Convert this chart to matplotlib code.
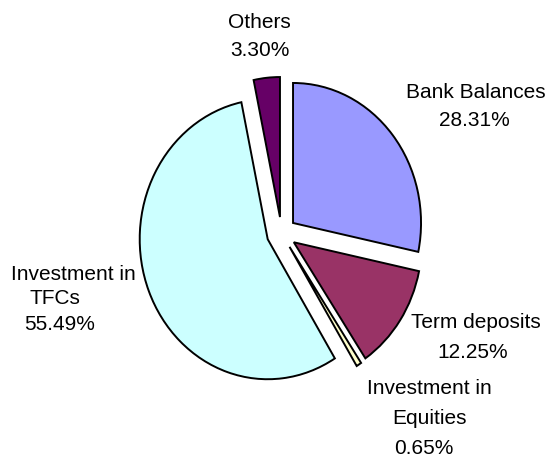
import matplotlib
matplotlib.use("Agg")
import matplotlib.pyplot as plt

categories = ["Bank Balances", "Term deposits", "Investment in Equities", "Investment in TFCs", "Others"]
values = [28.31, 12.25, 0.65, 55.49, 3.30]
colors = ["#9999FF", "#993366", "#FFFFCC", "#CCFFFF", "#660066"]

W, H = 546, 457
RX, RY = 128.0, 140.0  # pixel radii (slightly elliptical pie)

fig = plt.figure(figsize=(W / 100, H / 100), dpi=100)
ax = fig.add_axes([0, 0, 1, 1])
cx, cy = 281.5, 233.2
ax.pie(values, colors=colors, startangle=90, counterclock=False,
       explode=[0.116] * len(values), radius=1.0,
       center=(cx / RX, (H - cy) / RY),
       wedgeprops=dict(edgecolor="black", linewidth=1.4),
       frame=True)
ax.set_aspect("auto")
ax.set_xlim(0, W / RX)
ax.set_ylim(0, H / RY)
ax.axis("off")

font = dict(family=["Liberation Sans", "DejaVu Sans"], fontsize=15, color="black")

def put(x, y, s, ha="center"):
    fig.text(x / W, 1 - y / H, s, ha=ha, va="center", **font)

pct = [f"{v:.2f}%" for v in values]
put(259, 22, "Others"); put(260, 51, pct[4])
put(476, 92, "Bank Balances"); put(474, 121, pct[0])
put(476, 322, "Term deposits"); put(473, 353, pct[1])
put(429, 389, "Investment in"); put(429, 418, "Equities"); put(424, 449, pct[2])
put(11, 274, "Investment in", ha="left"); put(55, 299, "TFCs"); put(60, 324, pct[3])

fig.savefig("out.png", dpi=100, facecolor="white")
